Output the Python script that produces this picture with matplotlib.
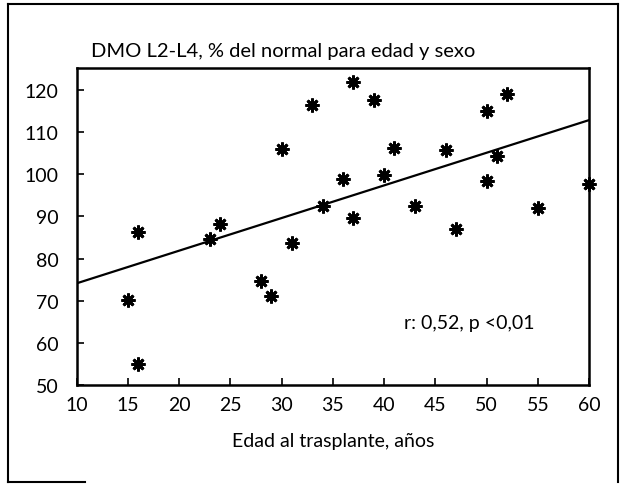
import matplotlib
matplotlib.use("Agg")
import matplotlib.pyplot as plt
from matplotlib.lines import Line2D

# Data
edad = [15, 16, 16, 23, 24, 28, 29, 30, 31, 33, 34, 36, 37, 37, 39, 40, 41,
        43, 46, 47, 50, 50, 51, 52, 55, 60]
dmo = [70.1, 86.2, 54.9, 84.6, 88.3, 74.7, 71.0, 106.1, 83.8, 116.4, 92.4,
       98.9, 122.0, 89.6, 117.6, 99.9, 106.3, 92.4, 105.8, 87.1, 115.1, 98.5,
       104.4, 119.2, 92.0, 97.7]
reg_x = [10, 60]
reg_y = [74.1, 112.9]
xticks = [10, 15, 20, 25, 30, 35, 40, 45, 50, 55, 60]
yticks = [50, 60, 70, 80, 90, 100, 110, 120]

plt.rcParams['font.family'] = ['Lato', 'DejaVu Sans']

fig = plt.figure(figsize=(6.26, 4.85), dpi=100)
ax = fig.add_axes([0.1224, 0.2047, 0.8186, 0.6523])

ax.plot(reg_x, reg_y, color='black', lw=1.6, zorder=2)
ax.plot(edad, dmo, linestyle='none', marker=(8, 2, 0), markersize=10,
        markeredgewidth=2.0, color='black', zorder=3, clip_on=False)

ax.set_xlim(10, 60)
ax.set_ylim(50, 125.2)
ax.set_xticks(xticks)
ax.set_yticks(yticks)
ax.tick_params(direction='in', length=5, width=1.2, labelsize=14)
ax.tick_params(axis='y', pad=13)
ax.tick_params(axis='x', pad=8)
for s in ax.spines.values():
    s.set_linewidth(1.8)

ax.set_xlabel('Edad al trasplante, años', fontsize=14, labelpad=14)
ax.text(41.9, 64.9, 'r: 0,52, p <0,01', fontsize=14, va='center', ha='left')
fig.text(91 / 626, 1 - 52 / 485, 'DMO L2-L4, % del normal para edad y sexo',
         fontsize=14.5, va='center', ha='left')

# outer frame
for xs, ys in [([8, 8], [5, 483]), ([8, 618], [5, 5]), ([618, 618], [5, 483]),
               ([8, 85], [483, 483])]:
    fig.add_artist(Line2D([x / 626 for x in xs], [1 - y / 485 for y in ys],
                          color='black', lw=1.5, transform=fig.transFigure))

fig.savefig('out.png', dpi=100)
